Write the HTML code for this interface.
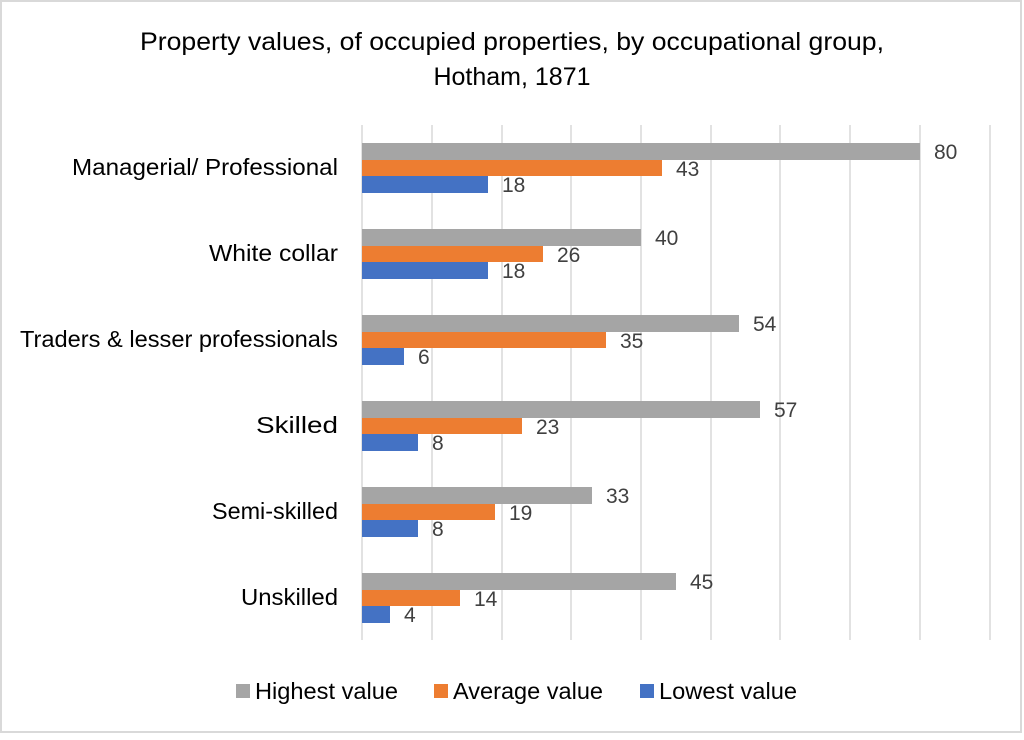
<!DOCTYPE html>
<html><head><style>body{margin:0;background:#fff}svg text{font-family:"Liberation Sans",sans-serif;fill:#404040}</style></head>
<body>
<svg width="1024" height="735" xmlns="http://www.w3.org/2000/svg">
<rect x="1" y="1" width="1020" height="731" fill="#fff" stroke="#d9d9d9" stroke-width="2"/>
<text x="512" y="50" font-size="25" text-anchor="middle" textLength="744" lengthAdjust="spacingAndGlyphs" style="fill:#000">Property values, of occupied properties, by occupational group,</text>
<text x="512" y="85" font-size="25" text-anchor="middle" style="fill:#000">Hotham, 1871</text>
<g stroke="#d9d9d9" stroke-width="1.5">
<line x1="362" y1="125" x2="362" y2="640"/><line x1="432" y1="125" x2="432" y2="640"/><line x1="502" y1="125" x2="502" y2="640"/><line x1="571" y1="125" x2="571" y2="640"/><line x1="641" y1="125" x2="641" y2="640"/><line x1="711" y1="125" x2="711" y2="640"/><line x1="780" y1="125" x2="780" y2="640"/><line x1="850" y1="125" x2="850" y2="640"/><line x1="920" y1="125" x2="920" y2="640"/><line x1="990" y1="125" x2="990" y2="640"/>
</g>
<g font-size="23" text-anchor="end">
<text x="338" y="175" textLength="266" lengthAdjust="spacingAndGlyphs" style="fill:#000">Managerial/ Professional</text>
<text x="338" y="261" textLength="129" lengthAdjust="spacingAndGlyphs" style="fill:#000">White collar</text>
<text x="338" y="347" textLength="318" lengthAdjust="spacingAndGlyphs" style="fill:#000">Traders &amp; lesser professionals</text>
<text x="338" y="433" textLength="82" lengthAdjust="spacingAndGlyphs" style="fill:#000">Skilled</text>
<text x="338" y="519" textLength="126" lengthAdjust="spacingAndGlyphs" style="fill:#000">Semi-skilled</text>
<text x="338" y="605" textLength="97" lengthAdjust="spacingAndGlyphs" style="fill:#000">Unskilled</text>
</g>
<g font-size="21">
<rect x="362" y="143" width="558" height="17" fill="#a5a5a5"/><text x="934" y="159">80</text>
<rect x="362" y="160" width="300" height="16" fill="#ed7d31"/><text x="676" y="176">43</text>
<rect x="362" y="176" width="126" height="17" fill="#4472c4"/><text x="502" y="192">18</text>

<rect x="362" y="229" width="279" height="17" fill="#a5a5a5"/><text x="655" y="245">40</text>
<rect x="362" y="246" width="181" height="16" fill="#ed7d31"/><text x="557" y="262">26</text>
<rect x="362" y="262" width="126" height="17" fill="#4472c4"/><text x="502" y="278">18</text>

<rect x="362" y="315" width="377" height="17" fill="#a5a5a5"/><text x="753" y="331">54</text>
<rect x="362" y="332" width="244" height="16" fill="#ed7d31"/><text x="620" y="348">35</text>
<rect x="362" y="348" width="42" height="17" fill="#4472c4"/><text x="418" y="364">6</text>

<rect x="362" y="401" width="398" height="17" fill="#a5a5a5"/><text x="774" y="417">57</text>
<rect x="362" y="418" width="160" height="16" fill="#ed7d31"/><text x="536" y="434">23</text>
<rect x="362" y="434" width="56" height="17" fill="#4472c4"/><text x="432" y="450">8</text>

<rect x="362" y="487" width="230" height="17" fill="#a5a5a5"/><text x="606" y="503">33</text>
<rect x="362" y="504" width="133" height="16" fill="#ed7d31"/><text x="509" y="520">19</text>
<rect x="362" y="520" width="56" height="17" fill="#4472c4"/><text x="432" y="536">8</text>

<rect x="362" y="573" width="314" height="17" fill="#a5a5a5"/><text x="690" y="589">45</text>
<rect x="362" y="590" width="98" height="16" fill="#ed7d31"/><text x="474" y="606">14</text>
<rect x="362" y="606" width="28" height="17" fill="#4472c4"/><text x="404" y="622">4</text>
</g>
<g font-size="23">
<rect x="236" y="684" width="14" height="14" fill="#a5a5a5"/><text x="255" y="699" textLength="143" lengthAdjust="spacingAndGlyphs" style="fill:#000">Highest value</text>
<rect x="434" y="684" width="14" height="14" fill="#ed7d31"/><text x="453" y="699" textLength="150" lengthAdjust="spacingAndGlyphs" style="fill:#000">Average value</text>
<rect x="640" y="684" width="14" height="14" fill="#4472c4"/><text x="659" y="699" textLength="138" lengthAdjust="spacingAndGlyphs" style="fill:#000">Lowest value</text>
</g>
</svg>
</body></html>
